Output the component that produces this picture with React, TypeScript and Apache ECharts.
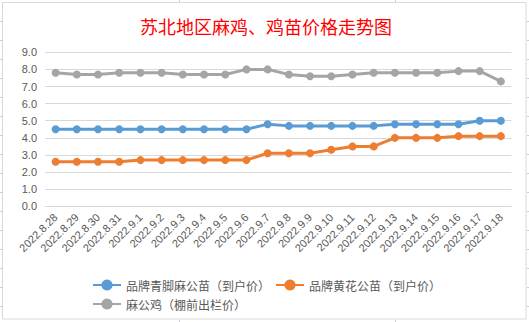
import React, { useEffect, useRef } from "react";
import * as echarts from "echarts";

const categories = [
  "2022.8.28", "2022.8.29", "2022.8.30", "2022.8.31", "2022.9.1", "2022.9.2",
  "2022.9.3", "2022.9.4", "2022.9.5", "2022.9.6", "2022.9.7", "2022.9.8",
  "2022.9.9", "2022.9.10", "2022.9.11", "2022.9.12", "2022.9.13", "2022.9.14",
  "2022.9.15", "2022.9.16", "2022.9.17", "2022.9.18",
];

const blueName = "品牌青脚麻公苗（到户价）";
const orangeName = "品牌黄花公苗（到户价）";
const grayName = "麻公鸡（棚前出栏价）";

const blueValues = [4.5, 4.5, 4.5, 4.5, 4.5, 4.5, 4.5, 4.5, 4.5, 4.5, 4.8, 4.7, 4.7, 4.7, 4.7, 4.7, 4.8, 4.8, 4.8, 4.8, 5.0, 5.0];
const orangeValues = [2.6, 2.6, 2.6, 2.6, 2.7, 2.7, 2.7, 2.7, 2.7, 2.7, 3.1, 3.1, 3.1, 3.3, 3.5, 3.5, 4.0, 4.0, 4.0, 4.1, 4.1, 4.1];
const grayValues = [7.8, 7.7, 7.7, 7.8, 7.8, 7.8, 7.7, 7.7, 7.7, 8.0, 8.0, 7.7, 7.6, 7.6, 7.7, 7.8, 7.8, 7.8, 7.8, 7.9, 7.9, 7.3];

const yTicks = { min: 0, max: 9, interval: 1 };

export default function App() {
  const ref = useRef<HTMLDivElement>(null);
  useEffect(() => {
    if (!ref.current) return;
    const chart = echarts.init(ref.current, undefined, { renderer: "svg" });
    const labelColor = "#595959";
    const numFont = "Liberation Sans, Noto Sans CJK SC, sans-serif";
    const cjkFont = "Noto Sans CJK SC, sans-serif";

    const cellLines: any[] = [];
    for (let k = 0; k < 16; k++) {
      const y = 21.5 + 19 * k;
      cellLines.push({ type: "line", shape: { x1: 0, y1: y, x2: 2, y2: y }, style: { stroke: "#c9cde0", lineWidth: 1 } });
      cellLines.push({ type: "line", shape: { x1: 527, y1: y, x2: 529, y2: y }, style: { stroke: "#c9cde0", lineWidth: 1 } });
    }
    [179.5, 395.5].forEach((x) => {
      cellLines.push({ type: "line", shape: { x1: x, y1: 0, x2: x, y2: 2 }, style: { stroke: "#c9cde0", lineWidth: 1 } });
      cellLines.push({ type: "line", shape: { x1: x, y1: 320, x2: x, y2: 322 }, style: { stroke: "#c9cde0", lineWidth: 1 } });
    });

    const mkSeries = (name: string, data: number[], color: string) => ({
      name,
      type: "line",
      data,
      symbol: "circle",
      symbolSize: 8,
      lineStyle: { width: 3, color },
      itemStyle: { color },
      emphasis: { disabled: true },
    });

    chart.setOption({
      animation: false,
      backgroundColor: "#ffffff",
      title: {
        text: "苏北地区麻鸡、鸡苗价格走势图",
        left: 261,
        textAlign: "center",
        top: 12,
        textStyle: { color: "#ff0000", fontSize: 18, fontWeight: "normal", fontFamily: cjkFont },
      },
      graphic: [
        {
          type: "rect",
          shape: { x: 2.5, y: 2.5, width: 523.5, height: 316.5 },
          style: { fill: "none", stroke: "#d9d9d9", lineWidth: 1 },
          silent: true,
        },
        ...cellLines,
      ],
      legend: [
        {
          data: [blueName, orangeName],
          left: 87,
          top: 274,
          itemWidth: 28,
          itemHeight: 14,
          itemGap: 5,
          textStyle: { color: labelColor, fontSize: 12, fontFamily: cjkFont },
        },
        {
          data: [grayName],
          left: 87,
          top: 293,
          itemWidth: 28,
          itemHeight: 14,
          textStyle: { color: labelColor, fontSize: 12, fontFamily: cjkFont },
        },
      ],
      grid: { left: 45, right: 17.5, top: 52.3, bottom: 115.7, containLabel: false },
      xAxis: {
        type: "category",
        data: categories,
        boundaryGap: true,
        axisLine: { show: true, lineStyle: { color: "#d9d9d9", width: 1 } },
        axisTick: { show: false },
        axisLabel: {
          rotate: 45,
          interval: 0,
          margin: 9,
          color: labelColor,
          fontSize: 11,
          fontFamily: numFont,
        },
      },
      yAxis: {
        type: "value",
        min: yTicks.min,
        max: yTicks.max,
        interval: yTicks.interval,
        axisLine: { show: false },
        axisTick: { show: false },
        splitLine: { lineStyle: { color: "#d9d9d9", width: 1 } },
        axisLabel: {
          margin: 8,
          color: labelColor,
          fontSize: 11,
          fontFamily: numFont,
          formatter: (v: number) => v.toFixed(1),
        },
      },
      series: [
        mkSeries(blueName, blueValues, "#5b9bd5"),
        mkSeries(orangeName, orangeValues, "#ed7d31"),
        mkSeries(grayName, grayValues, "#a5a5a5"),
      ],
    });
    return () => chart.dispose();
  }, []);
  return (
    <div
      ref={ref}
      style={{ position: "fixed", left: 0, top: 0, width: 529, height: 322 }}
    />
  );
}
